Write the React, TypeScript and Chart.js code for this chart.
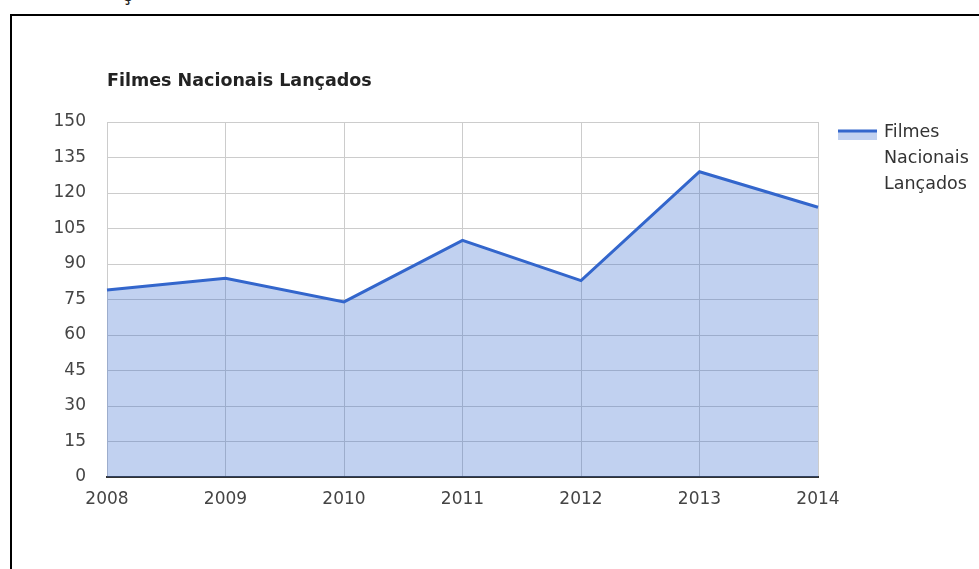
import React, { useEffect, useRef } from "react";
import { Chart, registerables } from "chart.js";

Chart.register(...registerables);

const title = "Filmes Nacionais Lançados";
const categories = ["2008", "2009", "2010", "2011", "2012", "2013", "2014"];
const seriesName = "Filmes Nacionais Lançados";
const legendLines = ["Filmes", "Nacionais", "Lançados"];
const values = [79, 84, 74, 100, 83, 129, 114];
const yMin = 0;
const yMax = 150;
const yStep = 15;

const FONT = "'DejaVu Sans', sans-serif";
const LINE = "#3366cc";
const FILL = "rgba(51,102,204,0.3)";

const overlay = {
  id: "overlay",
  afterDraw(chart: any) {
    const ctx = chart.ctx;
    const area = chart.chartArea;
    ctx.save();
    // title
    ctx.fillStyle = "#222";
    ctx.font = `bold 17.5px ${FONT}`;
    ctx.textBaseline = "middle";
    ctx.textAlign = "left";
    ctx.fillText(title, area.left, 81);
    // legend
    const lx = area.right + 20;
    const ly = 130;
    ctx.fillStyle = FILL;
    ctx.fillRect(lx, ly, 39, 10);
    ctx.strokeStyle = LINE;
    ctx.lineWidth = 3;
    ctx.beginPath();
    ctx.moveTo(lx, ly + 1);
    ctx.lineTo(lx + 39, ly + 1);
    ctx.stroke();
    ctx.fillStyle = "#333";
    ctx.font = `17.5px ${FONT}`;
    legendLines.forEach((t, i) => {
      ctx.fillText(t, lx + 46, 132 + i * 26);
    });
    ctx.restore();
  },
};

export default function App() {
  const ref = useRef<HTMLCanvasElement>(null);
  useEffect(() => {
    if (!ref.current) return;
    const chart = new Chart(ref.current, {
      type: "line",
      data: {
        labels: categories,
        datasets: [
          {
            label: seriesName,
            data: values,
            borderColor: LINE,
            backgroundColor: FILL,
            borderWidth: 3,
            fill: "origin",
            pointRadius: 0,
            tension: 0,
          },
        ],
      },
      options: {
        animation: false,
        responsive: false,
        layout: { padding: { left: 0, right: 161, top: 122, bottom: 52 } },
        plugins: {
          legend: { display: false },
          title: { display: false },
          tooltip: { enabled: false },
        },
        scales: {
          x: {
            offset: false,
            grid: { color: "#cccccc", drawTicks: false },
            border: { display: true, color: "#333333", width: 2 },
            ticks: {
              color: "#444",
              font: { family: FONT, size: 17 },
              padding: 12,
              maxRotation: 0,
              autoSkip: false,
            },
            afterFit: (s: any) => {
              s.height = 40;
            },
          },
          y: {
            min: yMin,
            max: yMax,
            grid: { color: "#cccccc", drawTicks: false },
            border: { display: false },
            ticks: {
              stepSize: yStep,
              color: "#444",
              font: { family: FONT, size: 17 },
              padding: 21,
            },
            afterFit: (s: any) => {
              s.width = 107;
            },
          },
        },
      },
      plugins: [overlay],
    });
    return () => chart.destroy();
  }, []);

  return (
    <div style={{ position: "absolute", left: 0, top: 0, width: 979, height: 569, overflow: "hidden", background: "#fff" }}>
      <span
        style={{
          position: "absolute",
          left: 122,
          top: -15,
          fontFamily: FONT,
          fontSize: 17,
          fontWeight: "bold",
          color: "#222",
          lineHeight: "20px",
        }}
      >
        ç
      </span>
      <div
        style={{
          position: "absolute",
          left: 10,
          top: 14,
          width: 1000,
          height: 600,
          border: "2px solid #000",
          boxSizing: "border-box",
        }}
      />
      <canvas ref={ref} width={979} height={569} style={{ position: "absolute", left: 0, top: 0 }} />
    </div>
  );
}
